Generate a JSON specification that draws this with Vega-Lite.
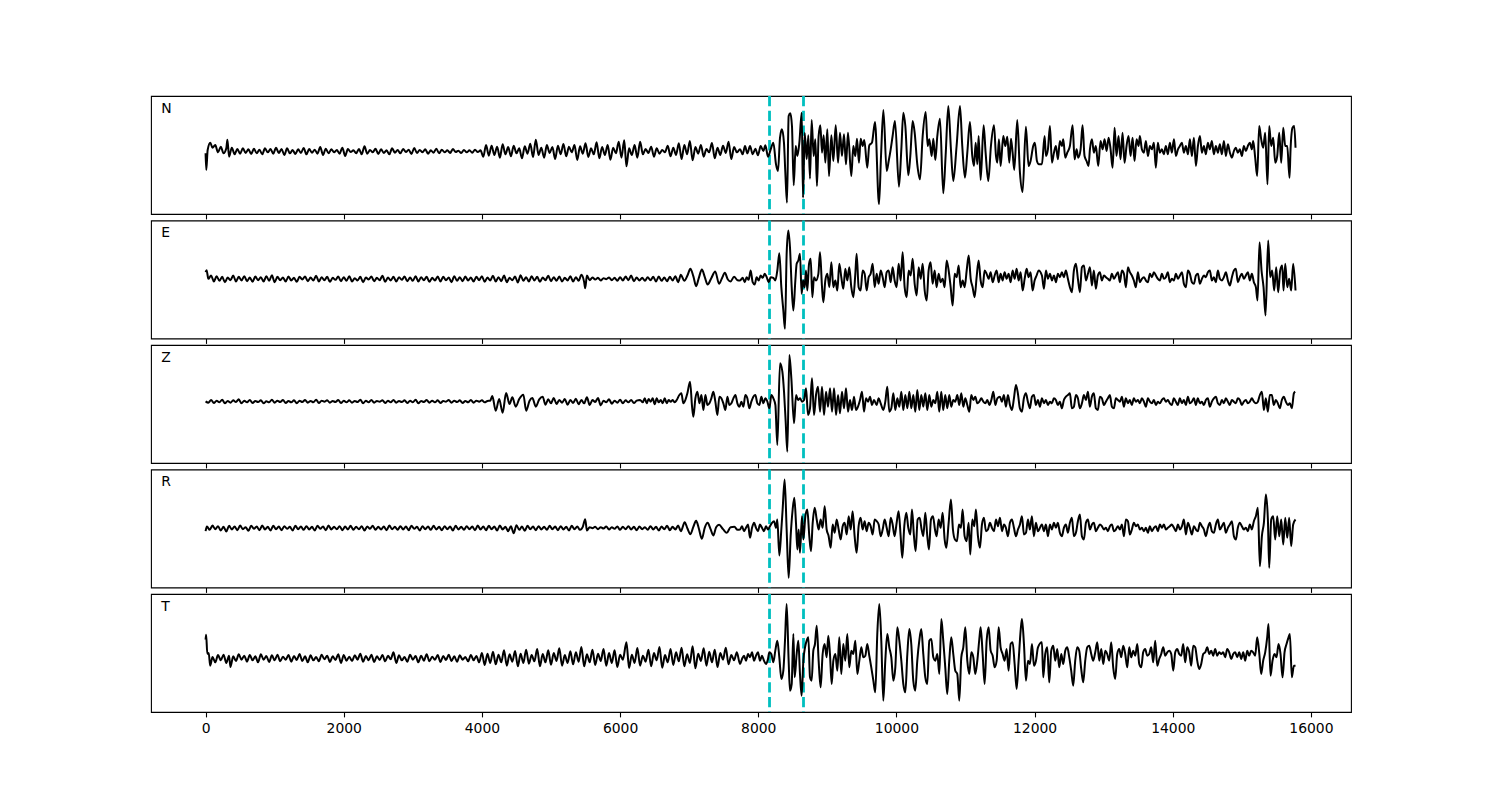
{
"$schema": "https://vega.github.io/schema/vega-lite/v6.json",
"background": "white",
"padding": {"left": 150, "top": 94, "right": 0, "bottom": 0},
"config": {"view": {"stroke": "black", "strokeWidth": 1.1}, "font": "DejaVu Sans"},
"spacing": 6.5,
"bounds": "flush",
"datasets": {
"picks": [{"t": 8163}, {"t": 8655}],
"N": [
{"t":0,"v":5},{"t":10,"v":-45},{"t":30,"v":15},{"t":68,"v":37},{"t":100,"v":22},{"t":140,"v":30},{"t":180,"v":8},{"t":220,"v":25},{"t":260,"v":5},{"t":300,"v":20},{"t":316,"v":46},{"t":340,"v":-5},{"t":380,"v":22},{"t":420,"v":2},{"t":460,"v":18},{"t":500,"v":4},{"t":540,"v":20},{"t":580,"v":6},{"t":620,"v":17},{"t":660,"v":3},{"t":700,"v":19},{"t":740,"v":5},{"t":780,"v":16},{"t":820,"v":2},{"t":860,"v":20},{"t":900,"v":8},{"t":940,"v":18},{"t":980,"v":4},{"t":1020,"v":22},{"t":1060,"v":6},{"t":1100,"v":18},{"t":1140,"v":0},{"t":1180,"v":20},{"t":1220,"v":5},{"t":1260,"v":15},{"t":1300,"v":3},{"t":1340,"v":17},{"t":1380,"v":6},{"t":1420,"v":21},{"t":1460,"v":2},{"t":1500,"v":18},{"t":1540,"v":7},{"t":1580,"v":16},{"t":1620,"v":4},{"t":1660,"v":24},{"t":1700,"v":0},{"t":1740,"v":19},{"t":1780,"v":5},{"t":1820,"v":17},{"t":1860,"v":8},{"t":1900,"v":15},{"t":1940,"v":4},{"t":1980,"v":22},{"t":2020,"v":-3},{"t":2060,"v":18},{"t":2100,"v":9},{"t":2140,"v":14},{"t":2180,"v":5},{"t":2220,"v":18},{"t":2260,"v":2},{"t":2300,"v":26},{"t":2340,"v":4},{"t":2380,"v":15},{"t":2420,"v":8},{"t":2460,"v":19},{"t":2500,"v":3},{"t":2540,"v":17},{"t":2580,"v":6},{"t":2620,"v":14},{"t":2660,"v":2},{"t":2700,"v":20},{"t":2740,"v":7},{"t":2780,"v":15},{"t":2820,"v":5},{"t":2860,"v":18},{"t":2900,"v":9},{"t":2940,"v":16},{"t":2980,"v":3},{"t":3020,"v":21},{"t":3060,"v":6},{"t":3100,"v":15},{"t":3140,"v":8},{"t":3180,"v":17},{"t":3220,"v":4},{"t":3260,"v":14},{"t":3300,"v":7},{"t":3340,"v":19},{"t":3380,"v":5},{"t":3420,"v":16},{"t":3460,"v":8},{"t":3500,"v":14},{"t":3540,"v":6},{"t":3580,"v":18},{"t":3620,"v":9},{"t":3660,"v":13},{"t":3700,"v":6},{"t":3740,"v":15},{"t":3780,"v":8},{"t":3820,"v":14},{"t":3860,"v":7},{"t":3900,"v":16},{"t":3940,"v":9},{"t":3980,"v":14},
{"t":4020,"v":-5},{"t":4060,"v":30},{"t":4100,"v":-2},{"t":4140,"v":28},{"t":4180,"v":0},{"t":4220,"v":25},{"t":4260,"v":-8},{"t":4300,"v":32},{"t":4340,"v":2},{"t":4380,"v":24},{"t":4420,"v":-4},{"t":4460,"v":28},{"t":4500,"v":5},{"t":4540,"v":20},{"t":4580,"v":-10},{"t":4620,"v":26},{"t":4660,"v":4},{"t":4700,"v":34},{"t":4740,"v":-6},{"t":4780,"v":46},{"t":4820,"v":0},{"t":4860,"v":22},{"t":4900,"v":-8},{"t":4940,"v":30},{"t":4980,"v":6},{"t":5020,"v":24},{"t":5060,"v":-12},{"t":5100,"v":28},{"t":5140,"v":2},{"t":5180,"v":33},{"t":5220,"v":-4},{"t":5260,"v":25},{"t":5300,"v":8},{"t":5340,"v":30},{"t":5380,"v":-15},{"t":5420,"v":26},{"t":5460,"v":4},{"t":5500,"v":35},{"t":5540,"v":-6},{"t":5580,"v":20},{"t":5620,"v":2},{"t":5660,"v":38},{"t":5700,"v":-10},{"t":5740,"v":24},{"t":5780,"v":0},{"t":5820,"v":30},{"t":5860,"v":-14},{"t":5900,"v":22},{"t":5940,"v":5},{"t":5980,"v":40},{"t":6020,"v":-8},{"t":6060,"v":44},{"t":6092,"v":-34},{"t":6130,"v":20},{"t":6170,"v":0},{"t":6210,"v":30},{"t":6250,"v":-8},{"t":6290,"v":40},{"t":6330,"v":2},{"t":6370,"v":18},{"t":6410,"v":6},{"t":6450,"v":25},{"t":6490,"v":-5},{"t":6530,"v":20},{"t":6570,"v":4},{"t":6610,"v":15},{"t":6650,"v":8},{"t":6690,"v":28},{"t":6730,"v":-4},{"t":6770,"v":22},{"t":6810,"v":0},{"t":6850,"v":35},{"t":6890,"v":-12},{"t":6930,"v":30},{"t":6970,"v":2},{"t":7010,"v":42},{"t":7050,"v":-16},{"t":7090,"v":24},{"t":7130,"v":4},{"t":7170,"v":30},{"t":7210,"v":-5},{"t":7250,"v":18},{"t":7290,"v":8},{"t":7330,"v":36},{"t":7370,"v":-10},{"t":7410,"v":22},{"t":7450,"v":0},{"t":7490,"v":28},{"t":7530,"v":6},{"t":7570,"v":40},{"t":7610,"v":-12},{"t":7650,"v":24},{"t":7690,"v":8},
{"t":7736,"v":17},{"t":7775,"v":2},{"t":7808,"v":27},{"t":7842,"v":5},{"t":7881,"v":27},{"t":7919,"v":2},{"t":7958,"v":19},{"t":7996,"v":-1},{"t":8035,"v":27},{"t":8074,"v":12},{"t":8103,"v":29},{"t":8141,"v":-5},{"t":8180,"v":17},{"t":8218,"v":37},{"t":8257,"v":-28},{"t":8286,"v":-48},{"t":8315,"v":52},{"t":8343,"v":77},{"t":8372,"v":37},{"t":8392,"v":-53},{"t":8416,"v":-143},{"t":8440,"v":117},{"t":8464,"v":125},{"t":8488,"v":87},{"t":8513,"v":-91},{"t":8542,"v":27},{"t":8566,"v":-3},{"t":8595,"v":37},{"t":8629,"v":127},{"t":8648,"v":-128},{"t":8672,"v":67},{"t":8701,"v":-13},{"t":8725,"v":59},{"t":8749,"v":-71},{"t":8773,"v":105},{"t":8802,"v":-3},{"t":8826,"v":47},{"t":8850,"v":-93},{"t":8874,"v":57},{"t":8899,"v":89},{"t":8923,"v":7},{"t":8947,"v":59},{"t":8971,"v":-23},{"t":9000,"v":77},{"t":9024,"v":-63},{"t":9058,"v":59},{"t":9087,"v":-18},{"t":9121,"v":89},{"t":9155,"v":-23},{"t":9183,"v":67},{"t":9212,"v":-3},{"t":9241,"v":62},{"t":9270,"v":-28},{"t":9299,"v":67},{"t":9347,"v":-63},{"t":9376,"v":27},{"t":9405,"v":-3},{"t":9429,"v":49},{"t":9458,"v":-23},{"t":9482,"v":49},{"t":9511,"v":27},{"t":9535,"v":45},{"t":9578,"v":-38},{"t":9607,"v":29},{"t":9646,"v":37},{"t":9690,"v":99},{"t":9748,"v":-148},{"t":9777,"v":-3},{"t":9811,"v":135},{"t":9859,"v":-48},{"t":9888,"v":-18},{"t":9917,"v":17},{"t":9945,"v":57},{"t":9979,"v":102},{"t":10037,"v":-95},{"t":10071,"v":17},{"t":10100,"v":127},{"t":10129,"v":87},{"t":10172,"v":-61},{"t":10201,"v":-3},{"t":10235,"v":102},{"t":10264,"v":67},{"t":10302,"v":-28},{"t":10341,"v":-73},{"t":10380,"v":57},{"t":10423,"v":129},{"t":10452,"v":27},{"t":10476,"v":47},{"t":10510,"v":-3},{"t":10534,"v":49},{"t":10563,"v":-15},{"t":10592,"v":57},{"t":10630,"v":109},{"t":10678,"v":-115},{"t":10712,"v":-3},{"t":10751,"v":147},{"t":10789,"v":17},{"t":10823,"v":-78},{"t":10871,"v":27},{"t":10920,"v":147},{"t":10953,"v":27},{"t":10992,"v":-68},{"t":11026,"v":7},{"t":11064,"v":99},{"t":11098,"v":-3},{"t":11123,"v":-33},{"t":11147,"v":37},{"t":11171,"v":-28},{"t":11190,"v":57},{"t":11219,"v":-75},{"t":11262,"v":89},{"t":11291,"v":7},{"t":11330,"v":-78},{"t":11368,"v":27},{"t":11412,"v":89},{"t":11441,"v":-3},{"t":11460,"v":-23},{"t":11484,"v":47},{"t":11508,"v":-33},{"t":11547,"v":57},{"t":11576,"v":27},{"t":11605,"v":55},{"t":11634,"v":-23},{"t":11658,"v":49},{"t":11682,"v":7},{"t":11706,"v":-45},{"t":11749,"v":105},{"t":11788,"v":-53},{"t":11826,"v":-111},{"t":11874,"v":85},{"t":11913,"v":-33},{"t":11942,"v":-18},{"t":11980,"v":27},{"t":12004,"v":37},{"t":12034,"v":-18},{"t":12063,"v":-28},
{"t":12106,"v":-28},{"t":12145,"v":57},{"t":12164,"v":-3},{"t":12193,"v":17},{"t":12222,"v":87},{"t":12251,"v":-23},{"t":12280,"v":7},{"t":12309,"v":27},{"t":12337,"v":-13},{"t":12366,"v":42},{"t":12395,"v":27},{"t":12415,"v":47},{"t":12444,"v":-8},{"t":12473,"v":7},{"t":12511,"v":27},{"t":12550,"v":89},{"t":12579,"v":-13},{"t":12608,"v":17},{"t":12632,"v":-8},{"t":12666,"v":17},{"t":12694,"v":89},{"t":12723,"v":-3},{"t":12752,"v":-18},{"t":12781,"v":-33},{"t":12801,"v":17},{"t":12830,"v":47},{"t":12858,"v":7},{"t":12887,"v":27},{"t":12921,"v":-33},{"t":12955,"v":42},{"t":12984,"v":17},{"t":13013,"v":47},{"t":13042,"v":12},{"t":13071,"v":52},{"t":13100,"v":17},{"t":13129,"v":-38},{"t":13158,"v":82},{"t":13186,"v":-3},{"t":13215,"v":57},{"t":13244,"v":-13},{"t":13273,"v":67},{"t":13302,"v":-23},{"t":13331,"v":27},{"t":13360,"v":57},{"t":13389,"v":-3},{"t":13418,"v":52},{"t":13447,"v":-18},{"t":13476,"v":47},{"t":13505,"v":27},{"t":13524,"v":57},{"t":13553,"v":17},{"t":13582,"v":7},{"t":13611,"v":42},{"t":13640,"v":-3},{"t":13669,"v":27},{"t":13698,"v":17},{"t":13727,"v":37},{"t":13755,"v":-38},{"t":13784,"v":37},{"t":13813,"v":7},{"t":13842,"v":17},{"t":13871,"v":2},{"t":13900,"v":27},{"t":13929,"v":2},{"t":13958,"v":37},{"t":13987,"v":7},{"t":14017,"v":47},{"t":14046,"v":-3},{"t":14075,"v":17},{"t":14103,"v":27},{"t":14132,"v":37},{"t":14161,"v":7},{"t":14190,"v":27},{"t":14219,"v":2},{"t":14248,"v":47},{"t":14277,"v":-3},{"t":14306,"v":52},{"t":14335,"v":-33},{"t":14364,"v":27},{"t":14393,"v":57},{"t":14422,"v":7},{"t":14451,"v":27},{"t":14479,"v":2},{"t":14508,"v":37},{"t":14537,"v":17},{"t":14566,"v":42},{"t":14595,"v":2},{"t":14624,"v":27},{"t":14653,"v":7},{"t":14682,"v":32},{"t":14711,"v":2},{"t":14740,"v":42},{"t":14769,"v":-3},{"t":14798,"v":32},{"t":14827,"v":7},{"t":14856,"v":-8},{"t":14885,"v":12},{"t":14913,"v":22},{"t":14942,"v":7},{"t":14971,"v":17},{"t":15000,"v":-3},{"t":15029,"v":27},{"t":15058,"v":12},{"t":15087,"v":27},{"t":15116,"v":37},{"t":15145,"v":17},{"t":15164,"v":42},{"t":15193,"v":-8},{"t":15222,"v":-63},{"t":15251,"v":87},{"t":15280,"v":47},{"t":15309,"v":22},{"t":15338,"v":67},{"t":15371,"v":-88},{"t":15396,"v":87},{"t":15425,"v":27},{"t":15454,"v":52},{"t":15483,"v":-23},{"t":15512,"v":-3},{"t":15541,"v":67},{"t":15570,"v":-23},{"t":15599,"v":82},{"t":15628,"v":27},{"t":15657,"v":27},{"t":15690,"v":-68},{"t":15705,"v":17},{"t":15734,"v":82},{"t":15758,"v":87},{"t":15777,"v":22}
],
"E": [
{"t":0,"v":22},{"t":15,"v":28},{"t":40,"v":2},{"t":80,"v":12},{"t":120,"v":-6},{"t":160,"v":10},{"t":200,"v":-4},{"t":240,"v":8},{"t":280,"v":-8},{"t":320,"v":6},{"t":360,"v":-2},{"t":400,"v":12},{"t":440,"v":-6},{"t":480,"v":8},{"t":520,"v":-3},{"t":560,"v":10},{"t":600,"v":-5},{"t":640,"v":6},{"t":680,"v":-7},{"t":720,"v":9},{"t":760,"v":-2},{"t":800,"v":7},{"t":840,"v":-6},{"t":880,"v":10},{"t":920,"v":-4},{"t":960,"v":13},{"t":1000,"v":-8},{"t":1040,"v":8},{"t":1080,"v":-2},{"t":1120,"v":6},{"t":1160,"v":-6},{"t":1200,"v":9},{"t":1240,"v":-3},{"t":1280,"v":5},{"t":1320,"v":-7},{"t":1360,"v":8},{"t":1400,"v":0},{"t":1440,"v":9},{"t":1480,"v":-5},{"t":1520,"v":6},{"t":1560,"v":-3},{"t":1600,"v":11},{"t":1640,"v":-6},{"t":1680,"v":7},{"t":1720,"v":-2},{"t":1760,"v":8},{"t":1800,"v":-7},{"t":1840,"v":5},{"t":1880,"v":-1},{"t":1920,"v":9},{"t":1960,"v":-5},{"t":2000,"v":7},{"t":2040,"v":-4},{"t":2080,"v":10},{"t":2120,"v":-6},{"t":2160,"v":4},{"t":2200,"v":-3},{"t":2240,"v":8},{"t":2280,"v":-8},{"t":2320,"v":6},{"t":2360,"v":0},{"t":2400,"v":9},{"t":2440,"v":-5},{"t":2480,"v":5},{"t":2520,"v":-2},{"t":2560,"v":11},{"t":2600,"v":-7},{"t":2640,"v":6},{"t":2680,"v":-3},{"t":2720,"v":8},{"t":2760,"v":-6},{"t":2800,"v":7},{"t":2840,"v":-1},{"t":2880,"v":9},{"t":2920,"v":-5},{"t":2960,"v":6},{"t":3000,"v":-4},{"t":3040,"v":10},{"t":3080,"v":-6},{"t":3120,"v":7},{"t":3160,"v":-2},{"t":3200,"v":8},{"t":3240,"v":-7},{"t":3280,"v":5},{"t":3320,"v":-3},{"t":3360,"v":9},{"t":3400,"v":-6},{"t":3440,"v":8},{"t":3480,"v":-2},{"t":3520,"v":6},{"t":3560,"v":-8},{"t":3600,"v":10},{"t":3640,"v":-4},{"t":3680,"v":7},{"t":3720,"v":-5},{"t":3760,"v":9},{"t":3800,"v":-3},{"t":3840,"v":6},{"t":3880,"v":-6},{"t":3920,"v":8},{"t":3960,"v":-2},{"t":4000,"v":10},{"t":4040,"v":-7},{"t":4080,"v":6},{"t":4120,"v":-3},{"t":4160,"v":11},{"t":4200,"v":-6},{"t":4240,"v":7},{"t":4280,"v":-5},{"t":4320,"v":12},{"t":4360,"v":-8},{"t":4400,"v":5},{"t":4440,"v":-2},{"t":4480,"v":9},{"t":4520,"v":-9},{"t":4560,"v":13},{"t":4600,"v":-4},{"t":4640,"v":7},{"t":4680,"v":-6},{"t":4720,"v":10},{"t":4760,"v":-3},{"t":4800,"v":8},{"t":4840,"v":-7},{"t":4880,"v":6},{"t":4920,"v":-2},{"t":4960,"v":11},{"t":5000,"v":-5},{"t":5040,"v":7},{"t":5080,"v":-4},{"t":5120,"v":9},{"t":5160,"v":-6},{"t":5200,"v":5},{"t":5240,"v":-3},{"t":5280,"v":10},{"t":5320,"v":-6},{"t":5360,"v":7},{"t":5400,"v":-4},{"t":5440,"v":14},{"t":5480,"v":-8},{"t":5495,"v":-26},{"t":5520,"v":12},{"t":5560,"v":-2},{"t":5600,"v":6},{"t":5640,"v":0},{"t":5680,"v":5},{"t":5720,"v":-3},{"t":5760,"v":4},{"t":5800,"v":1},{"t":5840,"v":6},{"t":5880,"v":-2},{"t":5920,"v":5},{"t":5960,"v":-4},{"t":6000,"v":7},{"t":6040,"v":-3},{"t":6080,"v":9},{"t":6120,"v":-2},{"t":6160,"v":12},{"t":6200,"v":-5},{"t":6240,"v":6},{"t":6280,"v":-3},{"t":6320,"v":5},{"t":6360,"v":-4},{"t":6400,"v":7},{"t":6440,"v":-2},{"t":6480,"v":8},{"t":6520,"v":-6},{"t":6560,"v":9},{"t":6600,"v":-4},{"t":6640,"v":6},{"t":6680,"v":-5},{"t":6720,"v":8},{"t":6760,"v":-3},{"t":6800,"v":10},{"t":6840,"v":-8},{"t":6880,"v":14},{"t":6930,"v":-4},{"t":6975,"v":12},{"t":7018,"v":32},{"t":7060,"v":10},{"t":7101,"v":-20},{"t":7140,"v":5},{"t":7184,"v":30},{"t":7225,"v":8},{"t":7267,"v":-15},{"t":7320,"v":4},{"t":7377,"v":24},{"t":7433,"v":-13},{"t":7475,"v":4},{"t":7516,"v":20},{"t":7560,"v":0},{"t":7599,"v":-6},{"t":7650,"v":8},{"t":7700,"v":-2},
{"t":7736,"v":-3},{"t":7775,"v":5},{"t":7804,"v":-8},{"t":7832,"v":7},{"t":7861,"v":-1},{"t":7890,"v":27},{"t":7919,"v":-8},{"t":7948,"v":-15},{"t":7977,"v":7},{"t":8006,"v":-3},{"t":8035,"v":12},{"t":8064,"v":5},{"t":8093,"v":17},{"t":8122,"v":7},{"t":8151,"v":-8},{"t":8180,"v":7},{"t":8218,"v":5},{"t":8247,"v":-3},{"t":8276,"v":27},{"t":8305,"v":79},{"t":8334,"v":-23},{"t":8363,"v":-93},{"t":8387,"v":-148},{"t":8411,"v":77},{"t":8435,"v":147},{"t":8459,"v":97},{"t":8484,"v":-23},{"t":8508,"v":-93},{"t":8537,"v":-3},{"t":8556,"v":47},{"t":8580,"v":57},{"t":8604,"v":77},{"t":8628,"v":-43},{"t":8648,"v":-3},{"t":8672,"v":-23},{"t":8691,"v":27},{"t":8710,"v":-33},{"t":8735,"v":47},{"t":8759,"v":62},{"t":8783,"v":-53},{"t":8807,"v":7},{"t":8836,"v":-3},{"t":8870,"v":17},{"t":8894,"v":82},{"t":8923,"v":-23},{"t":8942,"v":-68},{"t":8971,"v":-3},{"t":9000,"v":17},{"t":9029,"v":-23},{"t":9058,"v":52},{"t":9087,"v":-23},{"t":9116,"v":-3},{"t":9145,"v":-33},{"t":9173,"v":47},{"t":9202,"v":7},{"t":9231,"v":-28},{"t":9260,"v":32},{"t":9289,"v":-3},{"t":9318,"v":37},{"t":9347,"v":-23},{"t":9376,"v":-53},{"t":9405,"v":17},{"t":9424,"v":77},{"t":9453,"v":-23},{"t":9482,"v":-33},{"t":9511,"v":27},{"t":9540,"v":17},{"t":9569,"v":-33},{"t":9598,"v":7},{"t":9627,"v":17},{"t":9656,"v":47},{"t":9685,"v":-23},{"t":9714,"v":17},{"t":9743,"v":-13},{"t":9772,"v":27},{"t":9801,"v":7},{"t":9830,"v":-23},{"t":9859,"v":22},{"t":9888,"v":27},{"t":9917,"v":-8},{"t":9945,"v":37},{"t":9974,"v":-3},{"t":10003,"v":-23},{"t":10032,"v":47},{"t":10061,"v":-3},{"t":10090,"v":82},{"t":10119,"v":-23},{"t":10148,"v":-53},{"t":10177,"v":27},{"t":10206,"v":12},{"t":10235,"v":62},{"t":10264,"v":-13},{"t":10293,"v":-48},{"t":10322,"v":37},{"t":10351,"v":2},{"t":10380,"v":47},{"t":10409,"v":-33},{"t":10438,"v":-63},{"t":10466,"v":27},{"t":10495,"v":52},{"t":10524,"v":-13},{"t":10553,"v":27},{"t":10582,"v":-23},{"t":10611,"v":17},{"t":10640,"v":-8},{"t":10669,"v":2},{"t":10698,"v":-23},{"t":10727,"v":57},{"t":10756,"v":27},{"t":10785,"v":-23},{"t":10814,"v":-78},{"t":10843,"v":17},{"t":10872,"v":7},{"t":10901,"v":42},{"t":10930,"v":-23},{"t":10959,"v":-3},{"t":10988,"v":-23},{"t":11017,"v":27},{"t":11046,"v":72},{"t":11075,"v":2},{"t":11103,"v":-23},{"t":11132,"v":-53},{"t":11161,"v":7},{"t":11190,"v":57},{"t":11219,"v":-3},{"t":11248,"v":-23},{"t":11277,"v":27},{"t":11306,"v":17},{"t":11335,"v":2},{"t":11364,"v":22},{"t":11393,"v":-8},{"t":11422,"v":12},{"t":11451,"v":27},{"t":11480,"v":-8},{"t":11508,"v":17},{"t":11537,"v":-3},{"t":11566,"v":22},{"t":11595,"v":2},{"t":11624,"v":17},{"t":11653,"v":-8},{"t":11682,"v":27},{"t":11711,"v":2},{"t":11740,"v":32},{"t":11769,"v":-3},{"t":11798,"v":22},{"t":11827,"v":-33},{"t":11856,"v":2},{"t":11885,"v":32},{"t":11913,"v":7},{"t":11942,"v":22},{"t":11971,"v":-33},{"t":12000,"v":-3},{"t":12029,"v":12},{"t":12058,"v":27},
{"t":12106,"v":12},{"t":12135,"v":-28},{"t":12164,"v":27},{"t":12193,"v":2},{"t":12222,"v":17},{"t":12251,"v":-3},{"t":12280,"v":12},{"t":12309,"v":-8},{"t":12337,"v":17},{"t":12366,"v":7},{"t":12395,"v":22},{"t":12424,"v":7},{"t":12453,"v":27},{"t":12482,"v":2},{"t":12511,"v":-23},{"t":12540,"v":-38},{"t":12569,"v":27},{"t":12598,"v":47},{"t":12627,"v":2},{"t":12656,"v":-38},{"t":12685,"v":37},{"t":12714,"v":42},{"t":12743,"v":-3},{"t":12772,"v":17},{"t":12801,"v":37},{"t":12830,"v":-18},{"t":12858,"v":27},{"t":12887,"v":-28},{"t":12916,"v":12},{"t":12945,"v":22},{"t":12974,"v":-3},{"t":13003,"v":12},{"t":13032,"v":7},{"t":13061,"v":2},{"t":13090,"v":-3},{"t":13119,"v":17},{"t":13148,"v":2},{"t":13177,"v":12},{"t":13206,"v":22},{"t":13235,"v":-8},{"t":13264,"v":27},{"t":13293,"v":17},{"t":13322,"v":-23},{"t":13351,"v":37},{"t":13379,"v":22},{"t":13408,"v":12},{"t":13437,"v":-3},{"t":13466,"v":-23},{"t":13495,"v":22},{"t":13524,"v":-8},{"t":13553,"v":2},{"t":13582,"v":7},{"t":13611,"v":-3},{"t":13640,"v":-8},{"t":13669,"v":17},{"t":13698,"v":7},{"t":13727,"v":22},{"t":13756,"v":12},{"t":13785,"v":2},{"t":13814,"v":-3},{"t":13843,"v":17},{"t":13872,"v":2},{"t":13900,"v":7},{"t":13929,"v":22},{"t":13958,"v":-8},{"t":13987,"v":2},{"t":14017,"v":-3},{"t":14046,"v":17},{"t":14075,"v":2},{"t":14104,"v":12},{"t":14133,"v":22},{"t":14161,"v":-13},{"t":14190,"v":-23},{"t":14219,"v":27},{"t":14248,"v":17},{"t":14277,"v":-8},{"t":14306,"v":-13},{"t":14335,"v":12},{"t":14364,"v":17},{"t":14393,"v":-13},{"t":14422,"v":2},{"t":14451,"v":12},{"t":14479,"v":7},{"t":14508,"v":22},{"t":14537,"v":27},{"t":14566,"v":-3},{"t":14595,"v":7},{"t":14624,"v":-8},{"t":14653,"v":27},{"t":14682,"v":2},{"t":14711,"v":-3},{"t":14740,"v":7},{"t":14769,"v":22},{"t":14798,"v":-3},{"t":14827,"v":-18},{"t":14856,"v":7},{"t":14885,"v":27},{"t":14913,"v":32},{"t":14942,"v":-8},{"t":14971,"v":7},{"t":15000,"v":17},{"t":15029,"v":2},{"t":15058,"v":12},{"t":15087,"v":22},{"t":15116,"v":-3},{"t":15145,"v":17},{"t":15174,"v":-8},{"t":15203,"v":-23},{"t":15227,"v":-63},{"t":15256,"v":112},{"t":15285,"v":27},{"t":15314,"v":-23},{"t":15343,"v":-108},{"t":15381,"v":117},{"t":15410,"v":7},{"t":15439,"v":27},{"t":15468,"v":-33},{"t":15497,"v":37},{"t":15526,"v":-38},{"t":15555,"v":27},{"t":15584,"v":42},{"t":15603,"v":-33},{"t":15628,"v":47},{"t":15657,"v":-23},{"t":15685,"v":2},{"t":15714,"v":-33},{"t":15743,"v":47},{"t":15777,"v":-33}
],
"Z": [
{"t":0,"v":8},{"t":40,"v":4},{"t":80,"v":12},{"t":120,"v":3},{"t":160,"v":10},{"t":200,"v":5},{"t":240,"v":13},{"t":280,"v":2},{"t":320,"v":9},{"t":360,"v":4},{"t":400,"v":11},{"t":440,"v":6},{"t":480,"v":14},{"t":520,"v":2},{"t":560,"v":10},{"t":600,"v":5},{"t":640,"v":12},{"t":680,"v":3},{"t":720,"v":9},{"t":760,"v":6},{"t":800,"v":11},{"t":840,"v":2},{"t":880,"v":8},{"t":920,"v":5},{"t":960,"v":13},{"t":1000,"v":4},{"t":1040,"v":10},{"t":1080,"v":6},{"t":1120,"v":12},{"t":1160,"v":3},{"t":1200,"v":9},{"t":1240,"v":5},{"t":1280,"v":11},{"t":1320,"v":2},{"t":1360,"v":10},{"t":1400,"v":6},{"t":1440,"v":12},{"t":1480,"v":4},{"t":1520,"v":9},{"t":1560,"v":5},{"t":1600,"v":13},{"t":1640,"v":3},{"t":1680,"v":10},{"t":1720,"v":7},{"t":1760,"v":11},{"t":1800,"v":4},{"t":1840,"v":9},{"t":1880,"v":6},{"t":1920,"v":12},{"t":1960,"v":3},{"t":2000,"v":10},{"t":2040,"v":5},{"t":2080,"v":11},{"t":2120,"v":4},{"t":2160,"v":9},{"t":2200,"v":6},{"t":2240,"v":13},{"t":2280,"v":2},{"t":2320,"v":10},{"t":2360,"v":5},{"t":2400,"v":12},{"t":2440,"v":4},{"t":2480,"v":9},{"t":2520,"v":7},{"t":2560,"v":11},{"t":2600,"v":3},{"t":2640,"v":10},{"t":2680,"v":5},{"t":2720,"v":12},{"t":2760,"v":4},{"t":2800,"v":9},{"t":2840,"v":6},{"t":2880,"v":11},{"t":2920,"v":3},{"t":2960,"v":10},{"t":3000,"v":5},{"t":3040,"v":13},{"t":3080,"v":2},{"t":3120,"v":9},{"t":3160,"v":6},{"t":3200,"v":12},{"t":3240,"v":4},{"t":3280,"v":10},{"t":3320,"v":5},{"t":3360,"v":11},{"t":3400,"v":3},{"t":3440,"v":9},{"t":3480,"v":7},{"t":3520,"v":12},{"t":3560,"v":4},{"t":3600,"v":10},{"t":3640,"v":6},{"t":3680,"v":11},{"t":3720,"v":3},{"t":3760,"v":9},{"t":3800,"v":5},{"t":3840,"v":12},{"t":3880,"v":4},{"t":3920,"v":10},{"t":3960,"v":7},{"t":4000,"v":11},{"t":4040,"v":5},{"t":4080,"v":9},{"t":4120,"v":10},{"t":4150,"v":24},{"t":4200,"v":-20},{"t":4250,"v":15},{"t":4300,"v":-26},{"t":4350,"v":33},{"t":4400,"v":0},{"t":4440,"v":20},{"t":4490,"v":-8},{"t":4540,"v":15},{"t":4600,"v":28},{"t":4640,"v":-20},{"t":4690,"v":10},{"t":4730,"v":18},{"t":4780,"v":-8},{"t":4830,"v":14},{"t":4880,"v":22},{"t":4920,"v":-2},{"t":4960,"v":14},{"t":5000,"v":2},{"t":5040,"v":18},{"t":5080,"v":0},{"t":5120,"v":12},{"t":5160,"v":4},{"t":5200,"v":15},{"t":5240,"v":-2},{"t":5280,"v":12},{"t":5320,"v":3},{"t":5360,"v":16},{"t":5400,"v":-1},{"t":5440,"v":12},{"t":5480,"v":2},{"t":5520,"v":20},{"t":5560,"v":-3},{"t":5600,"v":12},{"t":5640,"v":6},{"t":5680,"v":18},{"t":5720,"v":-4},{"t":5760,"v":10},{"t":5800,"v":5},{"t":5840,"v":14},{"t":5880,"v":1},{"t":5920,"v":10},{"t":5960,"v":4},{"t":6000,"v":13},{"t":6040,"v":2},{"t":6080,"v":11},{"t":6120,"v":5},{"t":6160,"v":12},{"t":6200,"v":3},{"t":6240,"v":10},
{"t":6289,"v":12},{"t":6328,"v":5},{"t":6357,"v":17},{"t":6385,"v":2},{"t":6414,"v":15},{"t":6443,"v":7},{"t":6472,"v":17},{"t":6501,"v":-1},{"t":6530,"v":17},{"t":6559,"v":5},{"t":6588,"v":12},{"t":6617,"v":2},{"t":6646,"v":17},{"t":6675,"v":2},{"t":6704,"v":12},{"t":6733,"v":7},{"t":6762,"v":12},{"t":6791,"v":5},{"t":6820,"v":12},{"t":6858,"v":27},{"t":6887,"v":32},{"t":6916,"v":2},{"t":6945,"v":12},{"t":6974,"v":32},{"t":7013,"v":67},{"t":7042,"v":-8},{"t":7061,"v":-38},{"t":7090,"v":17},{"t":7119,"v":37},{"t":7148,"v":2},{"t":7177,"v":27},{"t":7206,"v":-18},{"t":7235,"v":27},{"t":7264,"v":-3},{"t":7293,"v":2},{"t":7321,"v":17},{"t":7350,"v":37},{"t":7379,"v":7},{"t":7408,"v":-33},{"t":7437,"v":22},{"t":7466,"v":17},{"t":7495,"v":2},{"t":7524,"v":-18},{"t":7553,"v":22},{"t":7582,"v":-3},{"t":7611,"v":2},{"t":7640,"v":17},{"t":7669,"v":27},{"t":7698,"v":2},{"t":7727,"v":-8},{"t":7756,"v":7},{"t":7785,"v":-8},{"t":7813,"v":27},{"t":7842,"v":17},{"t":7871,"v":-13},{"t":7900,"v":7},{"t":7929,"v":22},{"t":7958,"v":27},{"t":7987,"v":2},{"t":8016,"v":-3},{"t":8045,"v":22},{"t":8074,"v":2},{"t":8103,"v":17},{"t":8132,"v":7},{"t":8161,"v":-13},{"t":8190,"v":27},{"t":8219,"v":17},{"t":8248,"v":-3},{"t":8276,"v":-123},{"t":8315,"v":122},{"t":8349,"v":97},{"t":8373,"v":37},{"t":8397,"v":-53},{"t":8421,"v":-143},{"t":8450,"v":147},{"t":8479,"v":77},{"t":8518,"v":-58},{"t":8547,"v":27},{"t":8576,"v":12},{"t":8605,"v":17},{"t":8634,"v":7},{"t":8663,"v":12},{"t":8692,"v":47},{"t":8720,"v":-33},{"t":8749,"v":-13},{"t":8778,"v":77},{"t":8807,"v":-33},{"t":8836,"v":27},{"t":8865,"v":52},{"t":8894,"v":-23},{"t":8923,"v":52},{"t":8952,"v":-33},{"t":8981,"v":37},{"t":9010,"v":-8},{"t":9039,"v":47},{"t":9068,"v":-23},{"t":9097,"v":47},{"t":9126,"v":-33},{"t":9155,"v":27},{"t":9183,"v":-28},{"t":9212,"v":37},{"t":9241,"v":-13},{"t":9270,"v":47},{"t":9299,"v":-23},{"t":9328,"v":12},{"t":9357,"v":-18},{"t":9386,"v":22},{"t":9415,"v":-18},{"t":9444,"v":-8},{"t":9473,"v":12},{"t":9502,"v":37},{"t":9531,"v":-23},{"t":9560,"v":17},{"t":9589,"v":7},{"t":9618,"v":22},{"t":9646,"v":-3},{"t":9675,"v":12},{"t":9714,"v":-3},{"t":9743,"v":17},{"t":9772,"v":2},{"t":9810,"v":-18},{"t":9839,"v":7},{"t":9868,"v":52},{"t":9897,"v":-23},{"t":9926,"v":-13},{"t":9955,"v":32},{"t":9984,"v":-18},{"t":10013,"v":17},{"t":10042,"v":-8},{"t":10071,"v":37},{"t":10100,"v":-18},{"t":10129,"v":27},{"t":10158,"v":-13},{"t":10187,"v":37},{"t":10215,"v":-13},{"t":10244,"v":27},{"t":10273,"v":-23},{"t":10302,"v":42},{"t":10331,"v":-18},{"t":10360,"v":27},{"t":10389,"v":-8},{"t":10418,"v":32},{"t":10447,"v":-18},{"t":10476,"v":27},{"t":10505,"v":-8},{"t":10534,"v":12},{"t":10563,"v":2},{"t":10592,"v":37},{"t":10620,"v":-23},{"t":10649,"v":37},{"t":10678,"v":-18},{"t":10707,"v":27},{"t":10736,"v":-13},{"t":10765,"v":27},{"t":10794,"v":-8},{"t":10823,"v":12},{"t":10852,"v":7},{"t":10881,"v":27},{"t":10910,"v":-3},{"t":10939,"v":32},{"t":10968,"v":-8},{"t":10997,"v":17},{"t":11026,"v":-3},{"t":11055,"v":-23},{"t":11084,"v":27},{"t":11113,"v":12},{"t":11142,"v":22},{"t":11171,"v":2},{"t":11200,"v":7},{"t":11229,"v":17},{"t":11258,"v":7},{"t":11287,"v":2},{"t":11316,"v":12},{"t":11345,"v":-3},{"t":11374,"v":12},{"t":11403,"v":37},{"t":11432,"v":-3},{"t":11461,"v":17},
{"t":11498,"v":22},{"t":11527,"v":7},{"t":11556,"v":27},{"t":11585,"v":-8},{"t":11614,"v":27},{"t":11643,"v":-3},{"t":11672,"v":-18},{"t":11701,"v":17},{"t":11730,"v":57},{"t":11758,"v":32},{"t":11787,"v":-13},{"t":11816,"v":-23},{"t":11845,"v":17},{"t":11874,"v":32},{"t":11903,"v":7},{"t":11932,"v":-13},{"t":11961,"v":22},{"t":11990,"v":27},{"t":12019,"v":-3},{"t":12048,"v":12},{"t":12077,"v":-8},{"t":12106,"v":17},{"t":12135,"v":2},{"t":12164,"v":12},{"t":12193,"v":-3},{"t":12222,"v":7},{"t":12251,"v":2},{"t":12279,"v":17},{"t":12308,"v":12},{"t":12337,"v":-3},{"t":12366,"v":7},{"t":12395,"v":-13},{"t":12424,"v":12},{"t":12453,"v":22},{"t":12482,"v":27},{"t":12511,"v":32},{"t":12540,"v":-13},{"t":12569,"v":-8},{"t":12598,"v":27},{"t":12627,"v":17},{"t":12656,"v":-13},{"t":12685,"v":2},{"t":12714,"v":27},{"t":12743,"v":12},{"t":12772,"v":37},{"t":12800,"v":-8},{"t":12829,"v":22},{"t":12858,"v":32},{"t":12887,"v":-13},{"t":12916,"v":-18},{"t":12945,"v":22},{"t":12974,"v":17},{"t":13003,"v":-3},{"t":13032,"v":7},{"t":13061,"v":17},{"t":13090,"v":27},{"t":13119,"v":-8},{"t":13148,"v":-13},{"t":13177,"v":17},{"t":13206,"v":12},{"t":13235,"v":7},{"t":13264,"v":22},{"t":13292,"v":-8},{"t":13321,"v":17},{"t":13350,"v":2},{"t":13379,"v":12},{"t":13408,"v":-3},{"t":13437,"v":17},{"t":13466,"v":7},{"t":13495,"v":12},{"t":13524,"v":2},{"t":13553,"v":17},{"t":13582,"v":7},{"t":13611,"v":-8},{"t":13640,"v":17},{"t":13669,"v":7},{"t":13698,"v":2},{"t":13727,"v":12},{"t":13756,"v":-3},{"t":13785,"v":7},{"t":13813,"v":2},{"t":13842,"v":12},{"t":13871,"v":17},{"t":13900,"v":7},{"t":13929,"v":12},{"t":13958,"v":2},{"t":13987,"v":-3},{"t":14016,"v":17},{"t":14045,"v":7},{"t":14074,"v":-3},{"t":14103,"v":17},{"t":14132,"v":2},{"t":14161,"v":12},{"t":14190,"v":-3},{"t":14219,"v":22},{"t":14248,"v":2},{"t":14277,"v":7},{"t":14306,"v":17},{"t":14334,"v":-3},{"t":14363,"v":17},{"t":14392,"v":2},{"t":14421,"v":7},{"t":14450,"v":-3},{"t":14479,"v":12},{"t":14508,"v":17},{"t":14537,"v":-8},{"t":14566,"v":7},{"t":14595,"v":17},{"t":14624,"v":22},{"t":14653,"v":2},{"t":14682,"v":-3},{"t":14711,"v":12},{"t":14740,"v":2},{"t":14769,"v":17},{"t":14798,"v":7},{"t":14826,"v":-3},{"t":14855,"v":12},{"t":14884,"v":7},{"t":14913,"v":2},{"t":14942,"v":17},{"t":14971,"v":12},{"t":15000,"v":-3},{"t":15029,"v":7},{"t":15058,"v":12},{"t":15087,"v":2},{"t":15116,"v":7},{"t":15145,"v":17},{"t":15174,"v":7},{"t":15203,"v":2},{"t":15232,"v":7},{"t":15261,"v":27},{"t":15290,"v":37},{"t":15319,"v":-18},{"t":15347,"v":17},{"t":15376,"v":-23},{"t":15405,"v":27},{"t":15434,"v":27},{"t":15463,"v":-3},{"t":15492,"v":12},{"t":15521,"v":2},{"t":15550,"v":-13},{"t":15579,"v":12},{"t":15608,"v":22},{"t":15637,"v":7},{"t":15666,"v":-3},{"t":15695,"v":2},{"t":15724,"v":-13},{"t":15753,"v":32},{"t":15772,"v":37}
],
"R": [
{"t":0,"v":-8},{"t":20,"v":6},{"t":60,"v":-4},{"t":100,"v":9},{"t":140,"v":-2},{"t":180,"v":7},{"t":220,"v":-6},{"t":260,"v":5},{"t":300,"v":-9},{"t":340,"v":8},{"t":380,"v":-3},{"t":420,"v":6},{"t":460,"v":-5},{"t":500,"v":9},{"t":540,"v":-2},{"t":580,"v":4},{"t":620,"v":-7},{"t":660,"v":8},{"t":700,"v":-1},{"t":740,"v":6},{"t":780,"v":-5},{"t":820,"v":9},{"t":860,"v":-3},{"t":900,"v":5},{"t":940,"v":-6},{"t":980,"v":8},{"t":1020,"v":-2},{"t":1060,"v":6},{"t":1100,"v":-5},{"t":1140,"v":7},{"t":1180,"v":-1},{"t":1220,"v":5},{"t":1260,"v":-6},{"t":1300,"v":8},{"t":1340,"v":-2},{"t":1380,"v":6},{"t":1420,"v":-4},{"t":1460,"v":7},{"t":1500,"v":-3},{"t":1540,"v":5},{"t":1580,"v":-6},{"t":1620,"v":8},{"t":1660,"v":-1},{"t":1700,"v":6},{"t":1740,"v":-5},{"t":1780,"v":9},{"t":1820,"v":-3},{"t":1860,"v":5},{"t":1900,"v":-2},{"t":1940,"v":7},{"t":1980,"v":-5},{"t":2020,"v":6},{"t":2060,"v":-3},{"t":2100,"v":8},{"t":2140,"v":-4},{"t":2180,"v":5},{"t":2220,"v":-2},{"t":2260,"v":7},{"t":2300,"v":-6},{"t":2340,"v":6},{"t":2380,"v":-1},{"t":2420,"v":8},{"t":2460,"v":-4},{"t":2500,"v":5},{"t":2540,"v":-3},{"t":2580,"v":6},{"t":2620,"v":-5},{"t":2660,"v":9},{"t":2700,"v":-2},{"t":2740,"v":5},{"t":2780,"v":-4},{"t":2820,"v":7},{"t":2860,"v":-3},{"t":2900,"v":6},{"t":2940,"v":-5},{"t":2980,"v":8},{"t":3020,"v":-1},{"t":3060,"v":5},{"t":3100,"v":-6},{"t":3140,"v":7},{"t":3180,"v":-2},{"t":3220,"v":6},{"t":3260,"v":-4},{"t":3300,"v":8},{"t":3340,"v":-3},{"t":3380,"v":5},{"t":3420,"v":-5},{"t":3460,"v":7},{"t":3500,"v":-2},{"t":3540,"v":6},{"t":3580,"v":-6},{"t":3620,"v":8},{"t":3660,"v":-3},{"t":3700,"v":5},{"t":3740,"v":-4},{"t":3780,"v":7},{"t":3820,"v":-2},{"t":3860,"v":6},{"t":3900,"v":-5},{"t":3940,"v":9},{"t":3980,"v":-3},{"t":4020,"v":6},{"t":4060,"v":-5},{"t":4100,"v":8},{"t":4140,"v":-2},{"t":4180,"v":6},{"t":4220,"v":-6},{"t":4260,"v":9},{"t":4300,"v":-3},{"t":4340,"v":5},{"t":4380,"v":-8},{"t":4420,"v":7},{"t":4460,"v":-14},{"t":4500,"v":10},{"t":4540,"v":-4},{"t":4580,"v":6},{"t":4620,"v":-7},{"t":4660,"v":8},{"t":4700,"v":-2},{"t":4740,"v":6},{"t":4780,"v":-5},{"t":4820,"v":7},{"t":4860,"v":-3},{"t":4900,"v":5},{"t":4940,"v":-4},{"t":4980,"v":8},{"t":5020,"v":-2},{"t":5060,"v":6},{"t":5100,"v":-5},{"t":5140,"v":7},{"t":5180,"v":-3},{"t":5220,"v":5},{"t":5260,"v":-6},{"t":5300,"v":8},{"t":5340,"v":-2},{"t":5380,"v":6},{"t":5420,"v":-4},{"t":5460,"v":5},{"t":5495,"v":28},{"t":5520,"v":-6},{"t":5560,"v":4},{"t":5600,"v":1},{"t":5640,"v":5},{"t":5680,"v":-2},{"t":5720,"v":4},{"t":5760,"v":0},{"t":5800,"v":6},{"t":5840,"v":-3},{"t":5880,"v":4},{"t":5920,"v":-1},{"t":5960,"v":6},{"t":6000,"v":-4},{"t":6040,"v":5},{"t":6080,"v":-2},{"t":6120,"v":7},{"t":6160,"v":-3},{"t":6200,"v":5},{"t":6240,"v":-5},{"t":6280,"v":6},{"t":6320,"v":-2},{"t":6360,"v":4},{"t":6400,"v":-4},{"t":6440,"v":7},{"t":6480,"v":-3},{"t":6520,"v":5},{"t":6560,"v":-6},{"t":6600,"v":6},{"t":6640,"v":-2},{"t":6680,"v":8},{"t":6720,"v":-5},{"t":6760,"v":5},{"t":6800,"v":-3},{"t":6840,"v":9},{"t":6880,"v":-8},{"t":6935,"v":19},{"t":6975,"v":0},{"t":7018,"v":-17},{"t":7060,"v":5},{"t":7101,"v":23},{"t":7140,"v":0},{"t":7184,"v":-31},{"t":7225,"v":2},{"t":7267,"v":17},{"t":7310,"v":-2},{"t":7350,"v":-21},{"t":7390,"v":4},{"t":7433,"v":11},{"t":7490,"v":-2},{"t":7544,"v":-13},{"t":7600,"v":4},{"t":7655,"v":5},{"t":7700,"v":-4},
{"t":7736,"v":-3},{"t":7765,"v":7},{"t":7794,"v":-8},{"t":7823,"v":2},{"t":7852,"v":12},{"t":7881,"v":-28},{"t":7910,"v":2},{"t":7939,"v":17},{"t":7968,"v":2},{"t":7996,"v":-8},{"t":8025,"v":12},{"t":8054,"v":2},{"t":8083,"v":-8},{"t":8112,"v":7},{"t":8141,"v":-3},{"t":8170,"v":7},{"t":8199,"v":17},{"t":8228,"v":22},{"t":8257,"v":2},{"t":8276,"v":27},{"t":8305,"v":-81},{"t":8334,"v":-3},{"t":8353,"v":57},{"t":8382,"v":147},{"t":8411,"v":-3},{"t":8440,"v":-148},{"t":8469,"v":-23},{"t":8498,"v":57},{"t":8522,"v":92},{"t":8546,"v":17},{"t":8566,"v":-63},{"t":8585,"v":-3},{"t":8604,"v":-73},{"t":8633,"v":37},{"t":8653,"v":-33},{"t":8682,"v":37},{"t":8710,"v":57},{"t":8739,"v":-23},{"t":8763,"v":-68},{"t":8788,"v":17},{"t":8817,"v":62},{"t":8846,"v":27},{"t":8874,"v":-3},{"t":8903,"v":27},{"t":8932,"v":2},{"t":8961,"v":67},{"t":8990,"v":-3},{"t":9019,"v":-23},{"t":9048,"v":-58},{"t":9077,"v":12},{"t":9106,"v":-13},{"t":9135,"v":27},{"t":9164,"v":-3},{"t":9193,"v":-33},{"t":9222,"v":7},{"t":9251,"v":17},{"t":9280,"v":-18},{"t":9309,"v":37},{"t":9338,"v":-3},{"t":9366,"v":52},{"t":9395,"v":-23},{"t":9424,"v":-73},{"t":9453,"v":7},{"t":9482,"v":32},{"t":9511,"v":-3},{"t":9540,"v":22},{"t":9569,"v":-8},{"t":9598,"v":17},{"t":9627,"v":7},{"t":9656,"v":-18},{"t":9685,"v":27},{"t":9714,"v":22},{"t":9743,"v":12},{"t":9772,"v":-23},{"t":9801,"v":-3},{"t":9830,"v":27},{"t":9859,"v":2},{"t":9888,"v":-23},{"t":9917,"v":32},{"t":9945,"v":12},{"t":9974,"v":-23},{"t":10003,"v":17},{"t":10032,"v":52},{"t":10061,"v":-23},{"t":10085,"v":-88},{"t":10114,"v":7},{"t":10143,"v":47},{"t":10172,"v":2},{"t":10201,"v":-18},{"t":10225,"v":57},{"t":10254,"v":-23},{"t":10278,"v":-68},{"t":10307,"v":27},{"t":10336,"v":32},{"t":10365,"v":-3},{"t":10389,"v":-23},{"t":10418,"v":47},{"t":10447,"v":-23},{"t":10471,"v":-63},{"t":10500,"v":27},{"t":10529,"v":37},{"t":10558,"v":-3},{"t":10582,"v":-23},{"t":10611,"v":27},{"t":10640,"v":2},{"t":10669,"v":47},{"t":10698,"v":-33},{"t":10722,"v":-58},{"t":10756,"v":17},{"t":10789,"v":87},{"t":10818,"v":-3},{"t":10847,"v":-33},{"t":10876,"v":-38},{"t":10905,"v":12},{"t":10934,"v":2},{"t":10958,"v":57},{"t":10987,"v":-23},{"t":11016,"v":-38},{"t":11045,"v":17},{"t":11069,"v":-78},{"t":11098,"v":27},{"t":11127,"v":7},{"t":11151,"v":57},{"t":11180,"v":-23},{"t":11209,"v":-58},{"t":11238,"v":12},{"t":11267,"v":32},{"t":11296,"v":-8},{"t":11325,"v":-3},{"t":11354,"v":17},{"t":11383,"v":2},{"t":11412,"v":-8},{"t":11441,"v":27},{"t":11470,"v":7},{"t":11499,"v":32},{"t":11528,"v":-8},{"t":11557,"v":12},{"t":11585,"v":2},{"t":11614,"v":-23},{"t":11643,"v":17},{"t":11672,"v":27},{"t":11701,"v":2},{"t":11730,"v":-23},{"t":11759,"v":-3},{"t":11788,"v":12},{"t":11817,"v":37},{"t":11846,"v":-18},{"t":11875,"v":-13},{"t":11904,"v":27},{"t":11932,"v":-3},{"t":11961,"v":37},{"t":11990,"v":-23},{"t":12019,"v":17},{"t":12048,"v":-8},
{"t":12106,"v":12},{"t":12135,"v":-8},{"t":12164,"v":12},{"t":12193,"v":-23},{"t":12222,"v":12},{"t":12251,"v":-3},{"t":12280,"v":17},{"t":12309,"v":2},{"t":12337,"v":17},{"t":12366,"v":-13},{"t":12395,"v":-23},{"t":12424,"v":2},{"t":12453,"v":12},{"t":12482,"v":-13},{"t":12511,"v":17},{"t":12540,"v":32},{"t":12569,"v":-23},{"t":12598,"v":-13},{"t":12627,"v":22},{"t":12656,"v":42},{"t":12685,"v":-23},{"t":12714,"v":-33},{"t":12743,"v":17},{"t":12772,"v":27},{"t":12801,"v":-3},{"t":12830,"v":12},{"t":12858,"v":17},{"t":12887,"v":-8},{"t":12916,"v":2},{"t":12945,"v":12},{"t":12974,"v":7},{"t":13003,"v":-3},{"t":13032,"v":2},{"t":13061,"v":-8},{"t":13090,"v":7},{"t":13119,"v":12},{"t":13148,"v":-8},{"t":13177,"v":-3},{"t":13206,"v":7},{"t":13235,"v":-3},{"t":13264,"v":12},{"t":13293,"v":-23},{"t":13322,"v":27},{"t":13351,"v":22},{"t":13379,"v":-18},{"t":13408,"v":-3},{"t":13437,"v":17},{"t":13466,"v":7},{"t":13495,"v":12},{"t":13524,"v":-3},{"t":13553,"v":2},{"t":13582,"v":-8},{"t":13611,"v":2},{"t":13640,"v":-13},{"t":13669,"v":7},{"t":13698,"v":-8},{"t":13727,"v":2},{"t":13756,"v":7},{"t":13785,"v":-8},{"t":13814,"v":12},{"t":13843,"v":2},{"t":13872,"v":12},{"t":13900,"v":-3},{"t":13929,"v":2},{"t":13958,"v":7},{"t":13987,"v":12},{"t":14017,"v":2},{"t":14046,"v":-8},{"t":14075,"v":12},{"t":14104,"v":-3},{"t":14133,"v":7},{"t":14161,"v":27},{"t":14190,"v":-18},{"t":14219,"v":17},{"t":14248,"v":2},{"t":14277,"v":-18},{"t":14306,"v":7},{"t":14335,"v":-3},{"t":14364,"v":-8},{"t":14393,"v":17},{"t":14422,"v":7},{"t":14451,"v":-3},{"t":14479,"v":-23},{"t":14508,"v":2},{"t":14537,"v":17},{"t":14566,"v":-8},{"t":14595,"v":-13},{"t":14624,"v":12},{"t":14653,"v":27},{"t":14682,"v":-3},{"t":14711,"v":7},{"t":14740,"v":17},{"t":14769,"v":-13},{"t":14798,"v":2},{"t":14827,"v":12},{"t":14856,"v":22},{"t":14885,"v":-23},{"t":14913,"v":-33},{"t":14942,"v":2},{"t":14971,"v":17},{"t":15000,"v":7},{"t":15029,"v":-3},{"t":15058,"v":2},{"t":15087,"v":-8},{"t":15116,"v":12},{"t":15145,"v":-3},{"t":15174,"v":22},{"t":15203,"v":37},{"t":15232,"v":62},{"t":15261,"v":-113},{"t":15290,"v":-23},{"t":15319,"v":17},{"t":15348,"v":102},{"t":15377,"v":27},{"t":15396,"v":-118},{"t":15425,"v":27},{"t":15454,"v":37},{"t":15483,"v":-33},{"t":15512,"v":37},{"t":15541,"v":-23},{"t":15570,"v":27},{"t":15599,"v":-48},{"t":15628,"v":32},{"t":15657,"v":-28},{"t":15685,"v":32},{"t":15714,"v":-53},{"t":15743,"v":12},{"t":15777,"v":27}
],
"T": [
{"t":0,"v":40},{"t":8,"v":55},{"t":25,"v":-2},{"t":45,"v":0},{"t":67,"v":-38},{"t":100,"v":-12},{"t":140,"v":-28},{"t":180,"v":-6},{"t":220,"v":-22},{"t":260,"v":-5},{"t":300,"v":-30},{"t":340,"v":-8},{"t":360,"v":-42},{"t":400,"v":-10},{"t":440,"v":-24},{"t":480,"v":-4},{"t":520,"v":-20},{"t":560,"v":-8},{"t":600,"v":-26},{"t":640,"v":-6},{"t":680,"v":-22},{"t":720,"v":-10},{"t":760,"v":-28},{"t":800,"v":-4},{"t":840,"v":-20},{"t":880,"v":-9},{"t":920,"v":-27},{"t":960,"v":-7},{"t":1000,"v":-22},{"t":1040,"v":-5},{"t":1080,"v":-25},{"t":1120,"v":-11},{"t":1160,"v":-20},{"t":1200,"v":-6},{"t":1240,"v":-26},{"t":1280,"v":-9},{"t":1320,"v":-21},{"t":1360,"v":-3},{"t":1400,"v":-24},{"t":1440,"v":-10},{"t":1480,"v":-28},{"t":1520,"v":-7},{"t":1560,"v":-22},{"t":1600,"v":-12},{"t":1640,"v":-25},{"t":1680,"v":-5},{"t":1720,"v":-19},{"t":1760,"v":-8},{"t":1800,"v":-27},{"t":1840,"v":-10},{"t":1880,"v":-21},{"t":1920,"v":-4},{"t":1960,"v":-30},{"t":2000,"v":-6},{"t":2040,"v":-23},{"t":2080,"v":-11},{"t":2120,"v":-24},{"t":2160,"v":-7},{"t":2200,"v":-20},{"t":2240,"v":-2},{"t":2280,"v":-26},{"t":2320,"v":-9},{"t":2360,"v":-22},{"t":2400,"v":-5},{"t":2440,"v":-27},{"t":2480,"v":-10},{"t":2520,"v":-21},{"t":2560,"v":-6},{"t":2600,"v":-25},{"t":2640,"v":-8},{"t":2680,"v":-19},{"t":2720,"v":2},{"t":2760,"v":-30},{"t":2800,"v":-7},{"t":2840,"v":-22},{"t":2880,"v":-12},{"t":2920,"v":-26},{"t":2960,"v":-5},{"t":3000,"v":-20},{"t":3040,"v":-9},{"t":3080,"v":-28},{"t":3120,"v":-8},{"t":3160,"v":-23},{"t":3200,"v":-4},{"t":3240,"v":-25},{"t":3280,"v":-11},{"t":3320,"v":-20},{"t":3360,"v":-6},{"t":3400,"v":-27},{"t":3440,"v":-9},{"t":3480,"v":-21},{"t":3520,"v":-5},{"t":3560,"v":-24},{"t":3600,"v":-10},{"t":3640,"v":-26},{"t":3680,"v":-7},{"t":3720,"v":-20},{"t":3760,"v":-12},{"t":3800,"v":-25},{"t":3840,"v":-6},{"t":3880,"v":-22},{"t":3920,"v":-9},{"t":3960,"v":-28},{"t":4000,"v":0},{"t":4040,"v":-36},{"t":4080,"v":-2},{"t":4120,"v":-30},{"t":4160,"v":4},{"t":4200,"v":-34},{"t":4240,"v":-5},{"t":4280,"v":-28},{"t":4320,"v":8},{"t":4360,"v":-38},{"t":4400,"v":-4},{"t":4440,"v":-26},{"t":4480,"v":6},{"t":4520,"v":-40},{"t":4560,"v":-2},{"t":4600,"v":-30},{"t":4640,"v":10},{"t":4680,"v":-32},{"t":4720,"v":-6},{"t":4760,"v":-25},{"t":4800,"v":12},{"t":4840,"v":-40},{"t":4880,"v":-3},{"t":4920,"v":-28},{"t":4960,"v":8},{"t":5000,"v":-35},{"t":5040,"v":0},{"t":5080,"v":-24},{"t":5120,"v":14},{"t":5160,"v":-38},{"t":5200,"v":-6},{"t":5240,"v":-30},{"t":5280,"v":5},{"t":5320,"v":-34},{"t":5360,"v":2},{"t":5400,"v":-26},{"t":5440,"v":18},{"t":5480,"v":-40},{"t":5520,"v":-4},{"t":5560,"v":-28},{"t":5600,"v":10},{"t":5640,"v":-36},{"t":5680,"v":-2},{"t":5720,"v":-24},{"t":5760,"v":12},{"t":5800,"v":-38},{"t":5840,"v":0},{"t":5880,"v":-30},{"t":5920,"v":8},{"t":5960,"v":-42},{"t":6000,"v":-5},{"t":6040,"v":-20},{"t":6092,"v":32},{"t":6130,"v":-45},{"t":6170,"v":-5},{"t":6210,"v":-30},{"t":6250,"v":15},{"t":6290,"v":-38},{"t":6330,"v":-8},{"t":6370,"v":-26},{"t":6410,"v":10},{"t":6450,"v":-40},{"t":6490,"v":0},{"t":6530,"v":-22},{"t":6570,"v":18},{"t":6610,"v":-44},{"t":6650,"v":-6},{"t":6690,"v":-28},{"t":6730,"v":12},{"t":6770,"v":-36},{"t":6810,"v":2},{"t":6850,"v":-25},{"t":6890,"v":16},{"t":6930,"v":-40},{"t":6970,"v":-4},{"t":7010,"v":-30},{"t":7050,"v":20},{"t":7090,"v":-46},{"t":7130,"v":-2},{"t":7170,"v":-24},{"t":7210,"v":14},{"t":7250,"v":-38},{"t":7290,"v":4},{"t":7330,"v":-28},{"t":7370,"v":10},{"t":7410,"v":-42},{"t":7450,"v":0},{"t":7490,"v":-20},{"t":7530,"v":16},{"t":7570,"v":-34},{"t":7610,"v":-6},{"t":7650,"v":-22},{"t":7690,"v":2},
{"t":7736,"v":-33},{"t":7765,"v":-18},{"t":7794,"v":-8},{"t":7823,"v":-23},{"t":7852,"v":-3},{"t":7881,"v":-13},{"t":7910,"v":2},{"t":7939,"v":-23},{"t":7968,"v":-8},{"t":7996,"v":2},{"t":8025,"v":-23},{"t":8054,"v":-8},{"t":8083,"v":-23},{"t":8112,"v":-33},{"t":8141,"v":-18},{"t":8160,"v":2},{"t":8189,"v":-3},{"t":8218,"v":-28},{"t":8247,"v":7},{"t":8276,"v":37},{"t":8305,"v":-13},{"t":8334,"v":-78},{"t":8363,"v":-53},{"t":8387,"v":37},{"t":8411,"v":147},{"t":8440,"v":-23},{"t":8459,"v":-113},{"t":8484,"v":-93},{"t":8508,"v":57},{"t":8527,"v":-73},{"t":8556,"v":-3},{"t":8580,"v":37},{"t":8604,"v":-63},{"t":8628,"v":-128},{"t":8653,"v":-23},{"t":8677,"v":17},{"t":8701,"v":37},{"t":8725,"v":47},{"t":8749,"v":-73},{"t":8773,"v":-83},{"t":8797,"v":7},{"t":8821,"v":27},{"t":8846,"v":82},{"t":8874,"v":-23},{"t":8903,"v":-103},{"t":8932,"v":-3},{"t":8961,"v":27},{"t":8990,"v":-13},{"t":9014,"v":52},{"t":9038,"v":-3},{"t":9063,"v":-93},{"t":9087,"v":-23},{"t":9116,"v":-3},{"t":9145,"v":-53},{"t":9173,"v":47},{"t":9202,"v":-63},{"t":9231,"v":27},{"t":9260,"v":-23},{"t":9289,"v":57},{"t":9318,"v":-43},{"t":9347,"v":7},{"t":9376,"v":-3},{"t":9405,"v":37},{"t":9434,"v":-63},{"t":9463,"v":-23},{"t":9492,"v":17},{"t":9521,"v":-13},{"t":9550,"v":-8},{"t":9578,"v":27},{"t":9607,"v":-8},{"t":9636,"v":-43},{"t":9666,"v":-83},{"t":9694,"v":-118},{"t":9723,"v":57},{"t":9752,"v":147},{"t":9781,"v":37},{"t":9810,"v":-143},{"t":9839,"v":-23},{"t":9868,"v":57},{"t":9897,"v":17},{"t":9926,"v":-13},{"t":9955,"v":-83},{"t":9984,"v":-43},{"t":10013,"v":77},{"t":10042,"v":37},{"t":10071,"v":-23},{"t":10100,"v":-93},{"t":10129,"v":-118},{"t":10158,"v":-3},{"t":10187,"v":72},{"t":10215,"v":27},{"t":10244,"v":-83},{"t":10273,"v":-113},{"t":10302,"v":-23},{"t":10331,"v":37},{"t":10360,"v":72},{"t":10389,"v":-3},{"t":10418,"v":-73},{"t":10447,"v":-93},{"t":10476,"v":37},{"t":10505,"v":42},{"t":10534,"v":-13},{"t":10563,"v":-23},{"t":10592,"v":-3},{"t":10621,"v":-63},{"t":10650,"v":102},{"t":10678,"v":37},{"t":10707,"v":-43},{"t":10736,"v":-123},{"t":10765,"v":-23},{"t":10794,"v":47},{"t":10823,"v":-3},{"t":10852,"v":-53},{"t":10881,"v":-63},{"t":10910,"v":-143},{"t":10939,"v":-13},{"t":10968,"v":17},{"t":10997,"v":77},{"t":11026,"v":-23},{"t":11055,"v":-63},{"t":11084,"v":2},{"t":11113,"v":-13},{"t":11142,"v":-63},{"t":11171,"v":-23},{"t":11200,"v":42},{"t":11219,"v":77},{"t":11248,"v":-3},{"t":11277,"v":-93},{"t":11306,"v":37},{"t":11335,"v":77},{"t":11364,"v":7},{"t":11393,"v":-8},{"t":11422,"v":-43},{"t":11451,"v":-23},{"t":11480,"v":77},{"t":11508,"v":17},{"t":11537,"v":-3},{"t":11566,"v":-23},{"t":11595,"v":12},{"t":11624,"v":-53},{"t":11653,"v":27},{"t":11682,"v":32},{"t":11711,"v":-33},{"t":11740,"v":-108},{"t":11769,"v":-23},{"t":11798,"v":67},{"t":11817,"v":102},{"t":11846,"v":27},{"t":11875,"v":-83},{"t":11904,"v":-23},{"t":11933,"v":-33},{"t":11962,"v":27},{"t":11991,"v":-38},{"t":12020,"v":-23},{"t":12049,"v":17},
{"t":12106,"v":32},{"t":12125,"v":-73},{"t":12154,"v":-3},{"t":12183,"v":17},{"t":12212,"v":-88},{"t":12241,"v":7},{"t":12270,"v":22},{"t":12299,"v":-23},{"t":12328,"v":12},{"t":12357,"v":-43},{"t":12386,"v":-3},{"t":12415,"v":-33},{"t":12444,"v":7},{"t":12473,"v":17},{"t":12502,"v":-13},{"t":12530,"v":-53},{"t":12559,"v":-98},{"t":12588,"v":-23},{"t":12617,"v":17},{"t":12646,"v":7},{"t":12675,"v":-48},{"t":12704,"v":-88},{"t":12733,"v":-23},{"t":12762,"v":17},{"t":12791,"v":22},{"t":12820,"v":-3},{"t":12849,"v":-23},{"t":12878,"v":2},{"t":12907,"v":32},{"t":12936,"v":-23},{"t":12965,"v":12},{"t":12994,"v":-33},{"t":13023,"v":7},{"t":13051,"v":-3},{"t":13080,"v":-23},{"t":13109,"v":32},{"t":13138,"v":-43},{"t":13167,"v":-78},{"t":13196,"v":-3},{"t":13225,"v":12},{"t":13254,"v":-13},{"t":13283,"v":22},{"t":13312,"v":-3},{"t":13341,"v":-43},{"t":13370,"v":17},{"t":13399,"v":-13},{"t":13428,"v":7},{"t":13457,"v":-8},{"t":13486,"v":27},{"t":13515,"v":-33},{"t":13544,"v":-43},{"t":13572,"v":2},{"t":13601,"v":12},{"t":13630,"v":-8},{"t":13659,"v":-3},{"t":13688,"v":17},{"t":13717,"v":-28},{"t":13746,"v":37},{"t":13775,"v":-38},{"t":13804,"v":-18},{"t":13833,"v":-3},{"t":13862,"v":17},{"t":13891,"v":-8},{"t":13920,"v":2},{"t":13949,"v":7},{"t":13978,"v":-3},{"t":14007,"v":-53},{"t":14036,"v":2},{"t":14065,"v":12},{"t":14093,"v":-3},{"t":14122,"v":-8},{"t":14151,"v":27},{"t":14180,"v":-28},{"t":14209,"v":17},{"t":14238,"v":2},{"t":14267,"v":-38},{"t":14296,"v":22},{"t":14325,"v":17},{"t":14354,"v":-23},{"t":14383,"v":-48},{"t":14412,"v":-33},{"t":14441,"v":-3},{"t":14470,"v":2},{"t":14499,"v":17},{"t":14528,"v":-3},{"t":14557,"v":7},{"t":14586,"v":-8},{"t":14614,"v":12},{"t":14643,"v":-8},{"t":14672,"v":2},{"t":14701,"v":-3},{"t":14730,"v":2},{"t":14759,"v":-13},{"t":14788,"v":12},{"t":14817,"v":2},{"t":14846,"v":-18},{"t":14875,"v":-3},{"t":14904,"v":2},{"t":14933,"v":-13},{"t":14962,"v":2},{"t":14991,"v":-18},{"t":15020,"v":2},{"t":15049,"v":-23},{"t":15078,"v":7},{"t":15106,"v":-8},{"t":15135,"v":7},{"t":15164,"v":2},{"t":15193,"v":-8},{"t":15222,"v":47},{"t":15251,"v":2},{"t":15280,"v":-63},{"t":15309,"v":-23},{"t":15338,"v":2},{"t":15367,"v":47},{"t":15386,"v":87},{"t":15415,"v":-68},{"t":15444,"v":-23},{"t":15473,"v":-3},{"t":15502,"v":-13},{"t":15531,"v":27},{"t":15560,"v":-3},{"t":15589,"v":-73},{"t":15618,"v":2},{"t":15647,"v":27},{"t":15676,"v":47},{"t":15695,"v":57},{"t":15724,"v":-73},{"t":15753,"v":-38},{"t":15777,"v":-38}
]
},
"vconcat": [
{"width": 1200, "height": 118, "layer": [
{"data": {"name": "picks"}, "mark": {"type": "rule", "color": "#00bfbf", "strokeWidth": 2.8, "strokeDash": [10.3, 4.4]}, "encoding": {"x": {"field": "t", "type": "quantitative"}}},
{"data": {"name": "N"}, "mark": {"type": "line", "color": "black", "strokeWidth": 2, "interpolate": "monotone", "clip": true}, "encoding": {"x": {"field": "t", "type": "quantitative", "scale": {"domain": [-790, 16580], "nice": false, "zero": false}, "axis": {"values": [0,2000,4000,6000,8000,10000,12000,14000,16000], "labels": false, "title": null, "grid": false, "domain": false, "tickSize": 4.9, "tickWidth": 1.1, "tickColor": "black"}}, "y": {"field": "v", "type": "quantitative", "scale": {"domain": [-177, 177], "nice": false, "zero": false}, "axis": null}}},
{"data": {"values": [{"lab": "N"}]}, "mark": {"type": "text", "align": "left", "baseline": "alphabetic", "fontSize": 13.9, "font": "DejaVu Sans", "color": "black"}, "encoding": {"x": {"datum": -640}, "y": {"datum": 127}, "text": {"field": "lab"}}}
]},
{"width": 1200, "height": 118, "layer": [
{"data": {"name": "picks"}, "mark": {"type": "rule", "color": "#00bfbf", "strokeWidth": 2.8, "strokeDash": [10.3, 4.4]}, "encoding": {"x": {"field": "t", "type": "quantitative"}}},
{"data": {"name": "E"}, "mark": {"type": "line", "color": "black", "strokeWidth": 2, "interpolate": "monotone", "clip": true}, "encoding": {"x": {"field": "t", "type": "quantitative", "scale": {"domain": [-790, 16580], "nice": false, "zero": false}, "axis": {"values": [0,2000,4000,6000,8000,10000,12000,14000,16000], "labels": false, "title": null, "grid": false, "domain": false, "tickSize": 4.9, "tickWidth": 1.1, "tickColor": "black"}}, "y": {"field": "v", "type": "quantitative", "scale": {"domain": [-177, 177], "nice": false, "zero": false}, "axis": null}}},
{"data": {"values": [{"lab": "E"}]}, "mark": {"type": "text", "align": "left", "baseline": "alphabetic", "fontSize": 13.9, "font": "DejaVu Sans", "color": "black"}, "encoding": {"x": {"datum": -640}, "y": {"datum": 127}, "text": {"field": "lab"}}}
]},
{"width": 1200, "height": 118, "layer": [
{"data": {"name": "picks"}, "mark": {"type": "rule", "color": "#00bfbf", "strokeWidth": 2.8, "strokeDash": [10.3, 4.4]}, "encoding": {"x": {"field": "t", "type": "quantitative"}}},
{"data": {"name": "Z"}, "mark": {"type": "line", "color": "black", "strokeWidth": 2, "interpolate": "monotone", "clip": true}, "encoding": {"x": {"field": "t", "type": "quantitative", "scale": {"domain": [-790, 16580], "nice": false, "zero": false}, "axis": {"values": [0,2000,4000,6000,8000,10000,12000,14000,16000], "labels": false, "title": null, "grid": false, "domain": false, "tickSize": 4.9, "tickWidth": 1.1, "tickColor": "black"}}, "y": {"field": "v", "type": "quantitative", "scale": {"domain": [-177, 177], "nice": false, "zero": false}, "axis": null}}},
{"data": {"values": [{"lab": "Z"}]}, "mark": {"type": "text", "align": "left", "baseline": "alphabetic", "fontSize": 13.9, "font": "DejaVu Sans", "color": "black"}, "encoding": {"x": {"datum": -640}, "y": {"datum": 127}, "text": {"field": "lab"}}}
]},
{"width": 1200, "height": 118, "layer": [
{"data": {"name": "picks"}, "mark": {"type": "rule", "color": "#00bfbf", "strokeWidth": 2.8, "strokeDash": [10.3, 4.4]}, "encoding": {"x": {"field": "t", "type": "quantitative"}}},
{"data": {"name": "R"}, "mark": {"type": "line", "color": "black", "strokeWidth": 2, "interpolate": "monotone", "clip": true}, "encoding": {"x": {"field": "t", "type": "quantitative", "scale": {"domain": [-790, 16580], "nice": false, "zero": false}, "axis": {"values": [0,2000,4000,6000,8000,10000,12000,14000,16000], "labels": false, "title": null, "grid": false, "domain": false, "tickSize": 4.9, "tickWidth": 1.1, "tickColor": "black"}}, "y": {"field": "v", "type": "quantitative", "scale": {"domain": [-177, 177], "nice": false, "zero": false}, "axis": null}}},
{"data": {"values": [{"lab": "R"}]}, "mark": {"type": "text", "align": "left", "baseline": "alphabetic", "fontSize": 13.9, "font": "DejaVu Sans", "color": "black"}, "encoding": {"x": {"datum": -640}, "y": {"datum": 127}, "text": {"field": "lab"}}}
]},
{"width": 1200, "height": 118, "layer": [
{"data": {"name": "picks"}, "mark": {"type": "rule", "color": "#00bfbf", "strokeWidth": 2.8, "strokeDash": [10.3, 4.4]}, "encoding": {"x": {"field": "t", "type": "quantitative"}}},
{"data": {"name": "T"}, "mark": {"type": "line", "color": "black", "strokeWidth": 2, "interpolate": "monotone", "clip": true}, "encoding": {"x": {"field": "t", "type": "quantitative", "scale": {"domain": [-790, 16580], "nice": false, "zero": false}, "axis": {"values": [0,2000,4000,6000,8000,10000,12000,14000,16000], "format": "d", "labels": true, "title": null, "grid": false, "domain": false, "tickSize": 4.9, "tickWidth": 1.1, "tickColor": "black", "labelFont": "DejaVu Sans", "labelFontSize": 13.9, "labelColor": "black", "labelPadding": 4.9, "labelFlush": false, "labelOverlap": false}}, "y": {"field": "v", "type": "quantitative", "scale": {"domain": [-177, 177], "nice": false, "zero": false}, "axis": null}}},
{"data": {"values": [{"lab": "T"}]}, "mark": {"type": "text", "align": "left", "baseline": "alphabetic", "fontSize": 13.9, "font": "DejaVu Sans", "color": "black"}, "encoding": {"x": {"datum": -640}, "y": {"datum": 127}, "text": {"field": "lab"}}}
]}
]
}
